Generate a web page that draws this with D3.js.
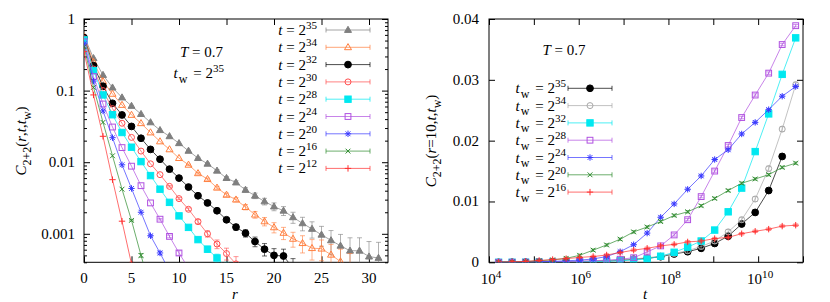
<!DOCTYPE html>
<html>
<head>
<meta charset="utf-8">
<script src="https://cdn.jsdelivr.net/npm/d3@7"></script>
<style>
  body { margin: 0; background: #fff; }
  svg, svg text { font-family: "Liberation Serif", "DejaVu Serif", "Times New Roman", Times, serif; }
  text { white-space: pre; fill: #000; }
</style>
</head>
<body>
<svg id="chart" width="830" height="302" font-family="Liberation Serif, DejaVu Serif, serif"></svg>
<script>
// ---- left panel: C_{2+2}(r,t,tw) vs r, tw = 2^35 ----
const rValues = [0,1,2,3,4,5,6,7,8,9,10,11,12,13,14,15,16,17,18,19,20,21,22,23,24,25,26,27,28,29,30,31];
const tLabels = ["35","34","32","30","28","24","20","16","12"];
const cT35 = [0.58,0.283,0.165,0.11,0.08,0.061,0.047,0.036,0.028,0.023,0.0184,0.0144,0.0114,0.0095,0.0076,0.006,0.0052,0.0041,0.0034,0.00283,0.0024,0.0021,0.0017,0.0014,0.00117,0.00097,0.00081,0.00068,0.00058,0.00058,0.00048,0.00046];
const cT34 = [0.57,0.25,0.135,0.09,0.063,0.0457,0.035,0.026,0.0195,0.0151,0.0114,0.0092,0.007,0.0058,0.0044,0.0035,0.003,0.00236,0.00185,0.00149,0.00123,0.00103,0.00085,0.00074,0.00063,0.00062,0.00051,0.00041,0.00033];
const cT32 = [0.55,0.223,0.115,0.0665,0.0457,0.0316,0.0216,0.0151,0.011,0.008,0.006,0.0045,0.0034,0.0027,0.0021,0.00157,0.00124,0.00102,0.00078,0.00061,0.0005,0.00049,0.00033];
const cT30 = [0.53,0.2,0.1,0.056,0.035,0.0222,0.0143,0.0095,0.0067,0.0046,0.0031,0.0022,0.00148,0.001,0.00072,0.00053,0.00038];
const cT28 = [0.51,0.19,0.087,0.046,0.026,0.0162,0.0102,0.0065,0.0042,0.00275,0.00178,0.00123,0.00083,0.00061,0.00046,0.00034];
const cT24 = [0.48,0.157,0.065,0.031,0.016,0.0088,0.0047,0.0027,0.0016,0.00092,0.00054,0.00033];
const cT20 = [0.45,0.136,0.052,0.022,0.0092,0.0043,0.002,0.00094,0.00054,0.0003];
const cT16 = [0.41,0.111,0.036,0.0123,0.0042,0.00154,0.0005,0.00017];
const cT12 = [0.35,0.087,0.023,0.0057,0.0015,0.00038];
const leftErr = [0.0003,0.0002,0.00012,0.0001,0.00006,0.00004,0.00003,0.00003,0.00002];
const rTicks = [0,5,10,15,20,25,30];
const cTicks = [0.001,0.01,0.1,1];
const cTickLabels = ["0.001","0.01","0.1","1"];

// ---- right panel: C_{2+2}(r=10,t,tw) vs t ----
const tExps = [14,15,16,17,18,19,20,21,22,23,24,25,26,27,28,29,30,31,32,33,34,35,36];
const twLabels = ["35","34","32","28","24","20","16"];
const cW35 = [0,0.00001,0.00002,0.00004,0.00006,0.00009,0.00012,0.00016,0.00022,0.00032,0.0005,0.00066,0.00092,0.00137,0.00174,0.0023,0.0031,0.0043,0.0063,0.0082,0.0118,0.0174];
const cW34 = [0,0.00001,0.00002,0.00004,0.00007,0.0001,0.00013,0.00018,0.00025,0.00036,0.00055,0.00075,0.001,0.00145,0.0019,0.0026,0.0035,0.005,0.007,0.0104,0.0154,0.0219,0.0292];
const cW32 = [0,0,0.00001,0.00002,0.00004,0.00006,0.00009,0.00013,0.00018,0.00025,0.00038,0.00055,0.001,0.00165,0.0025,0.0035,0.0053,0.0083,0.0122,0.0182,0.0244,0.0309,0.0369];
const cW28 = [0.00001,0.00002,0.00003,0.00005,0.00008,0.00012,0.00018,0.00025,0.00035,0.0005,0.00075,0.0017,0.0027,0.0045,0.007,0.0108,0.015,0.0192,0.0238,0.0275,0.0311,0.0358,0.0389];
const cW24 = [0,0.00002,0.00005,0.0001,0.00015,0.00025,0.00035,0.00055,0.00095,0.00175,0.0029,0.0048,0.0074,0.0096,0.012,0.0142,0.0169,0.0185,0.0211,0.023,0.0251,0.0273,0.0289];
const cW20 = [0.00003,0.00006,0.00012,0.00025,0.0004,0.00065,0.00115,0.002,0.00285,0.0038,0.005,0.0058,0.0067,0.0077,0.0083,0.0093,0.0105,0.0118,0.013,0.0137,0.0144,0.0156,0.0163];
const cW16 = [0.00003,0.00008,0.00015,0.0003,0.00045,0.0006,0.0008,0.00095,0.0012,0.0016,0.002,0.0023,0.0027,0.00295,0.00335,0.0035,0.0039,0.0041,0.0047,0.0051,0.00545,0.00595,0.0061];
const rightErr = [0.0004,0.0004,0.0003,0.0002,0.0002,0.0002,0.0002];
const cRTicks = [0,0.01,0.02,0.03,0.04];
const cRTickLabels = ["0","0.01","0.02","0.03","0.04"];
const tLabelExps = [4,6,8,10];

const leftSeries = [cT35,cT34,cT32,cT30,cT28,cT24,cT20,cT16,cT12];
const leftStyle = [
  { sym: "triF", color: "#7f7f7f" },
  { sym: "triO", color: "#ff7f3f" },
  { sym: "cirF", color: "#000000" },
  { sym: "cirO", color: "#ff4f4f" },
  { sym: "sqF",  color: "#00e8f0" },
  { sym: "sqO",  color: "#b050e0" },
  { sym: "star", color: "#3a3aff" },
  { sym: "x",    color: "#2e8b2e" },
  { sym: "plus", color: "#ff3030" }
];
const rightSeries = [cW35,cW34,cW32,cW28,cW24,cW20,cW16];
const rightStyle = [
  { sym: "cirF", color: "#000000" },
  { sym: "cirO", color: "#a8a8a8" },
  { sym: "sqF",  color: "#00e8f0" },
  { sym: "sqO",  color: "#b050e0" },
  { sym: "star", color: "#3a3aff" },
  { sym: "x",    color: "#2e8b2e" },
  { sym: "plus", color: "#ff3030" }
];

const svg = d3.select("#chart");
const FS = 15;
const SERIF = "Liberation Serif, DejaVu Serif, serif";

const xL = d3.scaleLinear().domain([0, 32]).range([84, 388]);
const yL = d3.scaleLog().domain([0.0004, 1]).range([262.3, 19]);
const xR = d3.scaleLog().domain([1e4, 1e11]).range([489, 803]);
const yR = d3.scaleLinear().domain([0, 0.04]).range([262.3, 19]);

// text with italic / sub / sup pieces: [text, mode, dx]
function rich(sel, parts, fs) {
  let shift = 0;
  sel.attr("font-family", SERIF);
  parts.forEach(([txt, mode, dx]) => {
    const target = mode === "sup" ? -0.42 * fs : mode === "sub" ? 0.3 * fs : 0;
    sel.append("tspan")
      .attr("dx", dx || null)
      .attr("dy", target - shift)
      .attr("font-size", mode === "sup" ? fs * 0.74 : mode === "sub" ? fs * 0.8 : fs)
      .attr("font-style", mode === "i" ? "italic" : null)
      .text(txt);
    shift = target;
  });
  return sel;
}

function marker(g, type, x, y, color) {
  const h = 3.2;
  if (type === "triF" || type === "triO") {
    g.append("path")
      .attr("d", `M${x},${y - 3.7}L${x + 3.5},${y + 2.4}L${x - 3.5},${y + 2.4}Z`)
      .attr("fill", type === "triF" ? color : "none")
      .attr("stroke", color).attr("stroke-width", 1);
  } else if (type === "cirF" || type === "cirO") {
    g.append("circle").attr("cx", x).attr("cy", y).attr("r", type === "cirF" ? 3.4 : 3)
      .attr("fill", type === "cirF" ? color : "none")
      .attr("stroke", color).attr("stroke-width", 1);
  } else if (type === "sqF" || type === "sqO") {
    const s = type === "sqF" ? 3.2 : 2.9;
    g.append("rect").attr("x", x - s).attr("y", y - s).attr("width", 2 * s).attr("height", 2 * s)
      .attr("fill", type === "sqF" ? color : "none")
      .attr("stroke", color).attr("stroke-width", 1);
  } else {
    let d = "";
    const k = h * 0.75;
    if (type === "plus" || type === "star") d += `M${x - h},${y}H${x + h}M${x},${y - h}V${y + h}`;
    if (type === "x" || type === "star") d += `M${x - k},${y - k}L${x + k},${y + k}M${x - k},${y + k}L${x + k},${y - k}`;
    g.append("path").attr("d", d).attr("fill", "none").attr("stroke", color).attr("stroke-width", 1);
  }
}

function errBar(g, x, yTop, yBot, color) {
  g.append("path")
    .attr("d", `M${x},${yTop}V${yBot}M${x - 2.5},${yTop}H${x + 2.5}M${x - 2.5},${yBot}H${x + 2.5}`)
    .attr("fill", "none").attr("stroke", color).attr("stroke-width", 1).attr("opacity", 0.6);
}

function frameAndTicks(x, y, xt, yt, yMinor) {
  const [x0, x1] = x.range();
  const [y1, y0] = y.range();
  const g = svg.append("g").attr("color", "#000");
  const add = (axis, tr, vals, size) => g.append("g").attr("transform", tr)
      .call(axis.tickValues(vals).tickSize(size).tickFormat(""))
      .call(a => a.select(".domain").remove());
  add(d3.axisBottom(x), `translate(0,${y1})`, xt, -6);
  add(d3.axisTop(x), `translate(0,${y0})`, xt, -6);
  add(d3.axisLeft(y), `translate(${x0},0)`, yt, -6);
  add(d3.axisRight(y), `translate(${x1},0)`, yt, -6);
  if (yMinor.length) {
    add(d3.axisLeft(y), `translate(${x0},0)`, yMinor, -3);
    add(d3.axisRight(y), `translate(${x1},0)`, yMinor, -3);
  }
  g.append("rect").attr("x", x0).attr("y", y0).attr("width", x1 - x0).attr("height", y1 - y0)
    .attr("fill", "none").attr("stroke", "#000").attr("stroke-width", 1);
}

function clip(id, x, y) {
  const [x0, x1] = x.range();
  const [y1, y0] = y.range();
  svg.append("clipPath").attr("id", id).append("rect")
    .attr("x", x0).attr("y", y0).attr("width", x1 - x0).attr("height", y1 - y0);
}

const isPow10 = v => Math.abs(Math.log10(v) - Math.round(Math.log10(v))) < 1e-9;

// ================= LEFT PANEL =================
clip("clipL", xL, yL);
frameAndTicks(xL, yL, rTicks, cTicks, yL.ticks().filter(v => !isPow10(v)));

const plotL = svg.append("g").attr("clip-path", "url(#clipL)");
leftSeries.forEach((vals, i) => {
  const st = leftStyle[i];
  const pts = vals.map((v, j) => [rValues[j], v]);
  const g = plotL.append("g");
  g.append("path").datum(pts)
    .attr("d", d3.line().x(d => xL(d[0])).y(d => yL(d[1])))
    .attr("fill", "none").attr("stroke", st.color).attr("stroke-width", 1).attr("opacity", 0.7);
  pts.forEach(([r, v]) => {
    const e = leftErr[i];
    const top = yL(v + e), bot = yL(Math.max(v - e, 1e-6));
    if (bot - top > 1.2) errBar(g, xL(r), top, bot, st.color);
    marker(g, st.sym, xL(r), yL(v), st.color);
  });
});

// left tick labels
svg.append("g").attr("font-family", SERIF).selectAll("text").data(rTicks).join("text")
  .attr("x", d => xL(d)).attr("y", 283).attr("text-anchor", "middle").attr("font-size", FS)
  .text(d => d);
svg.append("g").attr("font-family", SERIF).selectAll("text").data(cTicks).join("text")
  .attr("x", 75).attr("y", d => yL(d) + 5).attr("text-anchor", "end").attr("font-size", FS)
  .text((d, i) => cTickLabels[i]);

// left axis titles
rich(svg.append("text").attr("x", 235).attr("y", 299).attr("text-anchor", "middle").attr("font-size", FS), [["r", "i"]], FS);
rich(svg.append("text").attr("transform", "translate(26,141) rotate(-90)").attr("text-anchor", "middle").attr("font-size", FS),
  [["C", "i"], ["2+2", "sub"], ["(", ""], ["r", "i"], [",", ""], ["t", "i"], [",", ""], ["t", "i"], ["w", "sub"], [")", ""]], FS);

// left annotations
rich(svg.append("text").attr("x", 223).attr("y", 57).attr("text-anchor", "end").attr("font-size", FS),
  [["T", "i"], [" = 0.7", ""]], FS);
rich(svg.append("text").attr("x", 224).attr("y", 78).attr("text-anchor", "end").attr("font-size", FS),
  [["t", "i"], ["w", "sub", 1], [" = 2", "", 2], ["35", "sup"]], FS);

// left legend
tLabels.forEach((lab, i) => {
  const y = 30 + i * 17.3;
  const st = leftStyle[i];
  rich(svg.append("text").attr("x", 317).attr("y", y + 5).attr("text-anchor", "end").attr("font-size", FS),
    [["t", "i"], [" = 2", ""], [lab, "sup"]], FS);
  const g = svg.append("g");
  g.append("path").attr("d", `M326,${y}H370M326,${y - 2.5}V${y + 2.5}M370,${y - 2.5}V${y + 2.5}`)
    .attr("stroke", st.color).attr("stroke-width", 1).attr("opacity", 0.7).attr("fill", "none");
  marker(g, st.sym, 348, y, st.color);
});

// ================= RIGHT PANEL =================
clip("clipR", xR, yR);
frameAndTicks(xR, yR, xR.ticks().filter(isPow10), cRTicks, []);

const plotR = svg.append("g").attr("clip-path", "url(#clipR)");
rightSeries.forEach((vals, i) => {
  const st = rightStyle[i];
  const pts = vals.map((v, j) => [Math.pow(2, tExps[j]), v]);
  const g = plotR.append("g");
  g.append("path").datum(pts)
    .attr("d", d3.line().x(d => xR(d[0])).y(d => yR(d[1])))
    .attr("fill", "none").attr("stroke", st.color).attr("stroke-width", 1).attr("opacity", 0.7);
  pts.forEach(([t, v]) => {
    const e = rightErr[i];
    errBar(g, xR(t), yR(v + e), yR(v - e), st.color);
    marker(g, st.sym, xR(t), yR(v), st.color);
  });
});

// right tick labels
svg.append("g").attr("font-family", SERIF).selectAll("text").data(cRTicks).join("text")
  .attr("x", 479).attr("y", d => yR(d) + 5).attr("text-anchor", "end").attr("font-size", FS)
  .text((d, i) => cRTickLabels[i]);
tLabelExps.forEach(e => {
  rich(svg.append("text").attr("x", xR(Math.pow(10, e)) + 2).attr("y", 284).attr("text-anchor", "middle").attr("font-size", FS),
    [["10", ""], [String(e), "sup"]], FS);
});

// right axis titles
rich(svg.append("text").attr("x", 645).attr("y", 299).attr("text-anchor", "middle").attr("font-size", FS), [["t", "i"]], FS);
rich(svg.append("text").attr("transform", "translate(436,141) rotate(-90)").attr("text-anchor", "middle").attr("font-size", FS),
  [["C", "i"], ["2+2", "sub"], ["(", ""], ["r", "i"], ["=10,", ""], ["t", "i"], [",", ""], ["t", "i"], ["w", "sub"], [")", ""]], FS);

rich(svg.append("text").attr("x", 564).attr("y", 55).attr("text-anchor", "middle").attr("font-size", FS),
  [["T", "i"], [" = 0.7", ""]], FS);

// right legend
twLabels.forEach((lab, i) => {
  const y = 88.3 + i * 17.3;
  const st = rightStyle[i];
  rich(svg.append("text").attr("x", 566).attr("y", y + 5).attr("text-anchor", "end").attr("font-size", FS),
    [["t", "i"], ["w", "sub", 1], [" = 2", "", 2], [lab, "sup"]], FS);
  const g = svg.append("g");
  g.append("path").attr("d", `M568,${y}H612M568,${y - 2.5}V${y + 2.5}M612,${y - 2.5}V${y + 2.5}`)
    .attr("stroke", st.color).attr("stroke-width", 1).attr("opacity", 0.7).attr("fill", "none");
  marker(g, st.sym, 590, y, st.color);
});
</script>
</body>
</html>
